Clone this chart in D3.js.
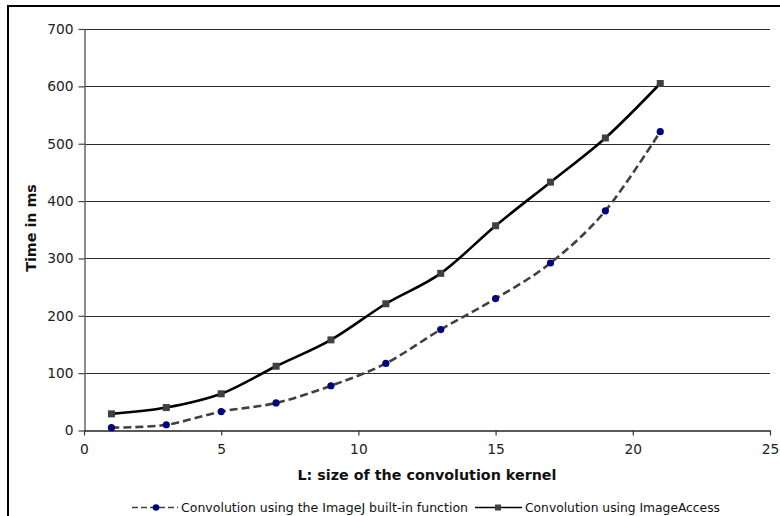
<!DOCTYPE html>
<html><head><meta charset="utf-8">
<script src="https://cdn.jsdelivr.net/npm/d3@7/dist/d3.min.js"></script>
<style>
html,body{margin:0;padding:0;background:#fff;}
svg{display:block;}
</style></head>
<body>
<svg id="chart" width="780" height="516"></svg>
<script>
const kernelSizes = [1, 3, 5, 7, 9, 11, 13, 15, 17, 19, 21];
const imageJTimes = [5, 10, 33, 48, 78, 117, 176, 230, 292, 383, 521];
const imageAccessTimes = [29, 40, 64, 112, 158, 221, 274, 357, 433, 510, 605];
const xTicks = [0, 5, 10, 15, 20, 25];
const yTicks = [0, 100, 200, 300, 400, 500, 600, 700];
const seriesNames = ["Convolution using the ImageJ built-in function", "Convolution using ImageAccess"];
const xTitle = "L: size of the convolution kernel";
const yTitle = "Time in ms";

const svg = d3.select("#chart");
const font = "'DejaVu Sans', Verdana, sans-serif";

// outer frame (cropped on right and bottom)
svg.append("path").attr("d", "M8,517 L8,6 L781,6").attr("fill", "none")
  .attr("stroke", "#000").attr("stroke-width", 2);

const x = d3.scaleLinear().domain([0, 25]).range([84, 770]);
const y = d3.scaleLinear().domain([0, 700]).range([430.5, 29]);

// gridlines
svg.append("g").selectAll("line").data(yTicks.filter(d => d > 0)).join("line")
  .attr("x1", 84).attr("x2", 770).attr("y1", d => Math.round(y(d)) + 0.5).attr("y2", d => Math.round(y(d)) + 0.5)
  .attr("stroke", "#2a2a2a").attr("stroke-width", 1.2);

// y axis
const yAxis = svg.append("g").attr("transform", "translate(84.5,0)")
  .call(d3.axisLeft(y).tickValues(yTicks).tickSize(6).tickPadding(5).tickSizeOuter(0));
yAxis.select(".domain").attr("stroke", "#666").attr("stroke-width", 1.5);
yAxis.selectAll(".tick line").attr("stroke", "#444").attr("stroke-width", 1.2);
yAxis.selectAll(".tick text").attr("font-family", font).attr("font-size", 13.8).attr("fill", "#222");

// x axis
const xAxis = svg.append("g").attr("transform", "translate(0,430.5)")
  .call(d3.axisBottom(x).tickValues(xTicks).tickSize(5).tickPadding(9).tickSizeOuter(0));
xAxis.select(".domain").attr("stroke", "#222").attr("stroke-width", 1.5);
xAxis.selectAll(".tick line").attr("stroke", "#333").attr("stroke-width", 1.2);
xAxis.selectAll(".tick text").attr("font-family", font).attr("font-size", 13.8).attr("fill", "#222");

// titles
svg.append("text").attr("x", 427).attr("y", 480).attr("text-anchor", "middle")
  .attr("font-family", font).attr("font-size", 14.3).attr("font-weight", "bold").attr("fill", "#111").text(xTitle);
svg.append("text").attr("transform", "translate(36,228) rotate(-90)").attr("text-anchor", "middle")
  .attr("font-family", font).attr("font-size", 14.3).attr("font-weight", "bold").attr("fill", "#111").text(yTitle);

const line = d3.line().x(d => x(d[0])).y(d => y(d[1])).curve(d3.curveCatmullRom.alpha(0));
const dataJ = kernelSizes.map((k, i) => [k, imageJTimes[i]]);
const dataA = kernelSizes.map((k, i) => [k, imageAccessTimes[i]]);

// ImageJ series (dashed)
svg.append("path").datum(dataJ).attr("d", line).attr("fill", "none")
  .attr("stroke", "#404040").attr("stroke-width", 2.6).attr("stroke-dasharray", "8,4");
svg.append("g").selectAll("circle").data(dataJ).join("circle")
  .attr("cx", d => x(d[0])).attr("cy", d => y(d[1])).attr("r", 3.6).attr("fill", "#000080");

// ImageAccess series (solid)
svg.append("path").datum(dataA).attr("d", line).attr("fill", "none")
  .attr("stroke", "#000").attr("stroke-width", 2.6);
svg.append("g").selectAll("rect").data(dataA).join("rect")
  .attr("x", d => x(d[0]) - 3.5).attr("y", d => y(d[1]) - 3.5).attr("width", 7).attr("height", 7).attr("fill", "#404040");

// legend
const legFont = "'DejaVu Sans Condensed', 'DejaVu Sans', sans-serif";
const ly = 507.5;
svg.append("line").attr("x1", 132).attr("x2", 178).attr("y1", ly).attr("y2", ly)
  .attr("stroke", "#404040").attr("stroke-width", 1.5).attr("stroke-dasharray", "6,3");
svg.append("circle").attr("cx", 156).attr("cy", ly).attr("r", 3.3).attr("fill", "#000080");
svg.append("text").attr("x", 181).attr("y", 511.5).attr("font-family", legFont).attr("font-size", 12)
  .attr("fill", "#111").attr("textLength", 287).attr("lengthAdjust", "spacingAndGlyphs").text(seriesNames[0]);
svg.append("line").attr("x1", 475).attr("x2", 522).attr("y1", ly).attr("y2", ly)
  .attr("stroke", "#000").attr("stroke-width", 1.5);
svg.append("rect").attr("x", 495).attr("y", ly - 3).attr("width", 6).attr("height", 6).attr("fill", "#404040");
svg.append("text").attr("x", 525).attr("y", 511.5).attr("font-family", legFont).attr("font-size", 12)
  .attr("fill", "#111").attr("textLength", 195).attr("lengthAdjust", "spacingAndGlyphs").text(seriesNames[1]);
</script>
</body></html>
